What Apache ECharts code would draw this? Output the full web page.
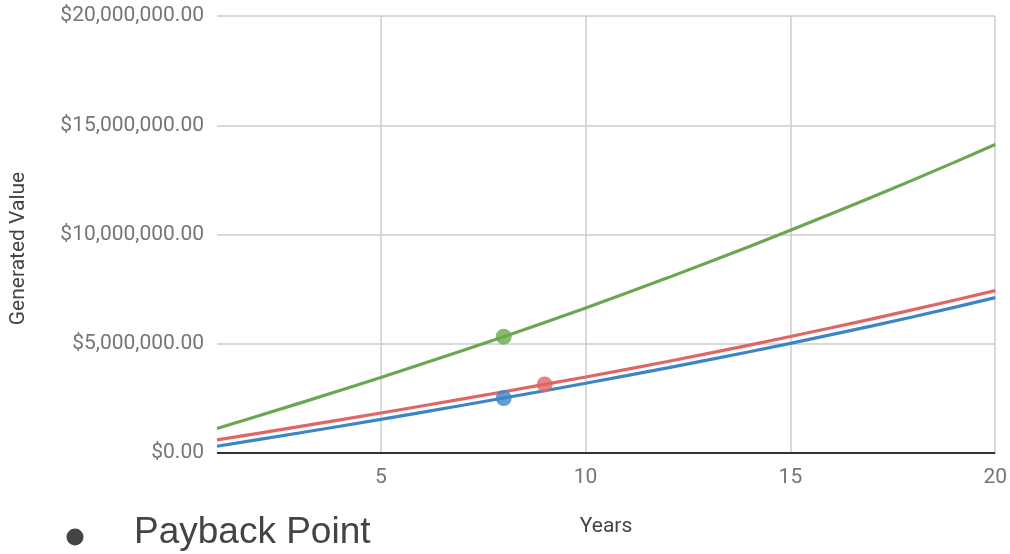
<!DOCTYPE html>
<html>
<head>
<meta charset="utf-8">
<style>
  html, body { margin: 0; padding: 0; background: #ffffff; }
  #chart { width: 1010px; height: 554px; }
</style>
<script src="https://cdn.jsdelivr.net/npm/echarts@6/dist/echarts.min.js"></script>
</head>
<body>
<div id="chart"></div>
<script>
// Years on the horizontal axis
const years = [1, 2, 3, 4, 5, 6, 7, 8, 9, 10, 11, 12, 13, 14, 15, 16, 17, 18, 19, 20];

// Cumulative generated value per scenario (USD)
const greenValues = [1120000, 1690000, 2270000, 2860000, 3460000, 4070000, 4690000, 5325000, 5975000, 6640000,
                     7320000, 8015000, 8725000, 9450000, 10190000, 10945000, 11715000, 12500000, 13300000, 14115000];
const redValues   = [600000, 900000, 1205000, 1515000, 1830000, 2150000, 2475000, 2805000, 3140000, 3480000,
                     3830000, 4190000, 4560000, 4940000, 5330000, 5730000, 6140000, 6560000, 6990000, 7430000];
const blueValues  = [310000, 610000, 915000, 1225000, 1540000, 1860000, 2185000, 2515000, 2850000, 3190000,
                     3540000, 3895000, 4260000, 4635000, 5020000, 5415000, 5820000, 6235000, 6665000, 7110000];

// Year in which each scenario pays back (green, red, blue)
const paybackYears = [8, 9, 8];

// Axis ticks
const xTicks = [5, 10, 15, 20];
const yTicks = [0, 5000000, 10000000, 15000000, 20000000];

const seriesColors = ['#6aa84f', '#e06666', '#3d85c6'];
const seriesValues = [greenValues, redValues, blueValues];

function toPairs(values) {
  return years.map((y, i) => [y, values[i]]);
}

function money(v) {
  return '$' + Number(v).toLocaleString('en-US', { minimumFractionDigits: 2, maximumFractionDigits: 2 });
}

const lineSeries = seriesValues.map((vals, i) => ({
  type: 'line',
  data: toPairs(vals),
  showSymbol: false,
  smooth: false,
  lineStyle: { color: seriesColors[i], width: 3.2 },
  itemStyle: { color: seriesColors[i] },
  z: 2
}));

const paybackSeries = {
  type: 'scatter',
  name: 'Payback Point',
  symbol: 'circle',
  symbolSize: 16,
  z: 5,
  data: paybackYears.map((yr, i) => ({
    value: [yr, seriesValues[i][years.indexOf(yr)]],
    itemStyle: { color: seriesColors[i] }
  }))
};

const chart = echarts.init(document.getElementById('chart'), null, { renderer: 'canvas' });

chart.setOption({
  animation: false,
  backgroundColor: '#ffffff',
  grid: { left: 215, right: 11, top: 16, bottom: 101, containLabel: false },
  xAxis: {
    type: 'value',
    min: years[0],
    max: years[years.length - 1],
    name: 'Years',
    nameLocation: 'middle',
    nameGap: 63,
    nameTextStyle: { fontFamily: 'Roboto', fontSize: 21, color: '#444444' },
    axisLine: { show: false },
    axisTick: { show: false, customValues: xTicks },
    axisLabel: {
      customValues: xTicks,
      fontFamily: 'Roboto', fontSize: 21, color: '#757575', margin: 14
    },
    splitLine: { show: true, lineStyle: { color: '#cccccc', width: 1.5 } }
  },
  yAxis: {
    type: 'value',
    min: yTicks[0],
    max: yTicks[yTicks.length - 1],
    interval: yTicks[1] - yTicks[0],
    name: 'Generated Value',
    nameLocation: 'middle',
    nameRotate: 90,
    nameGap: 188,
    nameTextStyle: { fontFamily: 'Roboto', fontSize: 21, color: '#444444', padding: [0, 28, 0, 0] },
    axisLine: { show: false },
    axisTick: { show: false },
    axisLabel: {
      formatter: money,
      fontFamily: 'Roboto', fontSize: 21, color: '#757575', margin: 13
    },
    splitLine: { show: true, lineStyle: { color: '#cccccc', width: 1.5 } }
  },
  series: [
    ...lineSeries,
    paybackSeries,
    {
      // zero baseline
      type: 'line',
      data: [],
      markLine: {
        silent: true,
        symbol: 'none',
        label: { show: false },
        lineStyle: { color: '#333333', width: 2, type: 'solid' },
        data: [{ yAxis: 0 }]
      },
      z: 3
    }
  ],
  graphic: [
    { type: 'circle', shape: { cx: 75, cy: 537, r: 8.5 }, style: { fill: '#444444' } },
    {
      type: 'text', x: 134, y: 533,
      style: {
        text: 'Payback Point',
        font: '37px "Liberation Sans", Arial, sans-serif',
        fill: '#444444',
        verticalAlign: 'middle',
        align: 'left'
      }
    }
  ]
});
</script>
</body>
</html>
